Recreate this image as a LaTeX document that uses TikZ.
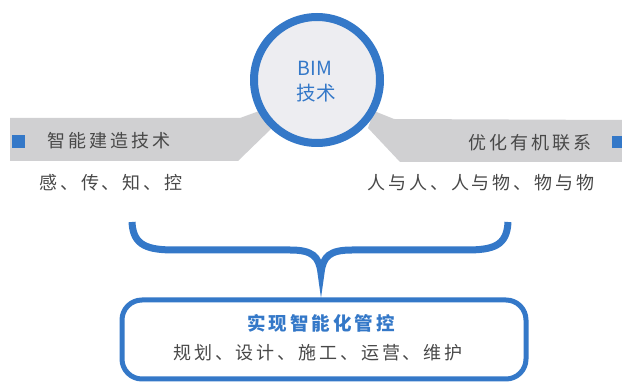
\documentclass[tikz,border=0pt]{standalone}
\usepackage{fontspec}
\newfontfamily\cjk[LetterSpace=16]{Noto Sans CJK SC}
\newfontfamily\cjktight{Noto Sans CJK SC}
\usetikzlibrary{positioning}
\definecolor{bimblue}{RGB}{52,120,200}
\definecolor{bandgray}{RGB}{208,208,210}
\definecolor{circfill}{RGB}{237,237,241}
\definecolor{txtgray}{RGB}{72,72,72}
\tikzset{
  graytext/.style={text=txtgray, font=\cjk\fontsize{18}{22}\selectfont, inner sep=0pt},
  bluetext/.style={text=bimblue, font=\cjktight\fontsize{19.5}{22}\selectfont, inner sep=0pt},
  band/.style={fill=bandgray},
  marker/.style={fill=bimblue}
}

\begin{document}
\begin{tikzpicture}[x=1pt,y=-1pt]
	\useasboundingbox (0,0) rectangle (622,382);
	% grey bands behind the circle
	\fill[band] (10,118) -- (240,118) -- (262,110) -- (272,128) -- (238,161) -- (10,161) -- cycle;
	\fill[band] (622,120) -- (394,119) -- (374,111) -- (368,128) -- (400,162) -- (622,162) -- cycle;
	\fill[marker] (12,135) rectangle (25,148);
	\fill[marker] (612,136) rectangle (622,148);

	% centre circle
	\node[circle, draw=bimblue, line width=8pt, fill=circfill, minimum size=126pt, inner sep=0pt] (bim) at (317,80) {};
	\node[bluetext] (bimtop) at (315,68) {BIM};
	\node[bluetext] (bimbot) at (316,93) {技术};

	% left and right labels
	\node[graytext] (smart) at (109,141) {智能建造技术};
	\node[graytext] (sense) at (111,183) {感、传、知、控};
	\node[graytext] (link) at (530,143) {优化有机联系};
	\node[graytext] (people) at (481,183) {人与人、人与物、物与物};

	% brace
	\draw[bimblue, line width=7pt, line join=miter]
		(132,222) .. controls (133,246) and (148,250) .. (175,250) -- (290,250)
		.. controls (312,250) and (319,256) .. (321,273)
		.. controls (323,256) and (330,250) .. (352,250) -- (466,250)
		.. controls (493,250) and (507,246) .. (508,222);

	% result box
	\draw[bimblue, line width=5pt, rounded corners=20pt] (122,300) rectangle (526,379);
	\node[text=bimblue, inner sep=0pt, font=\cjk\bfseries\fontsize{18.5}{22}\selectfont] (ctrl) at (321,323) {实现智能化管控};
	\node[graytext] (phases) at (318,353) {规划、设计、施工、运营、维护};
\end{tikzpicture}
\end{document}
